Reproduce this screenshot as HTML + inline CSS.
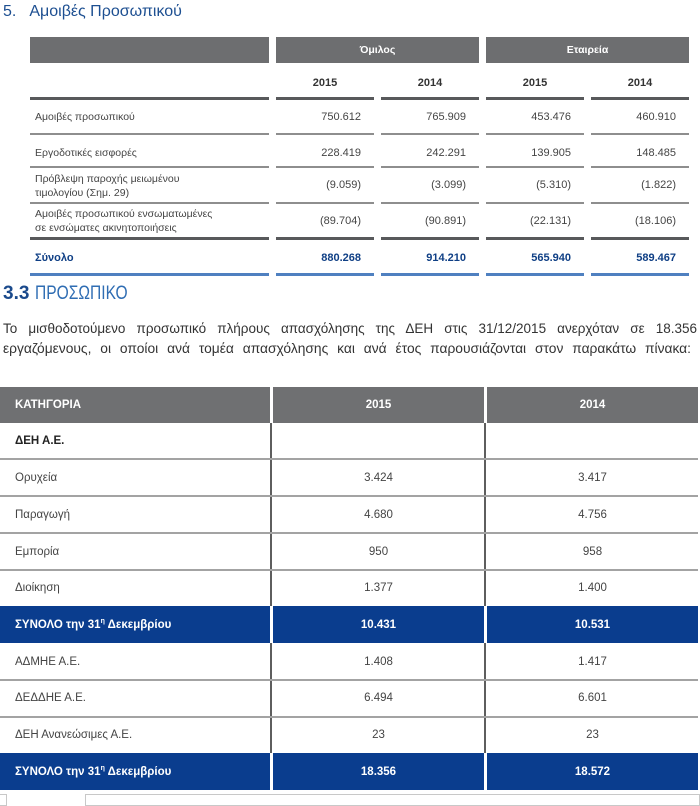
<!DOCTYPE html>
<html>
<head>
<meta charset="utf-8">
<style>
  html,body{margin:0;padding:0;}
  body{width:700px;height:800px;background:#fff;position:relative;overflow:hidden;font-family:"Liberation Sans","DejaVu Sans",sans-serif;color:#3a3a3a;}
  .a{position:absolute;}
  .t{position:absolute;white-space:nowrap;}
  .gbar{position:absolute;background:#6d6e70;}
  .ln{position:absolute;height:2px;background:#8e8e8e;}
  .lnd{position:absolute;height:3px;background:#58595b;}
  .lnb{position:absolute;height:3px;background:#4f80c0;}
  .num{position:absolute;text-align:right;font-size:11px;line-height:14px;color:#444;}
  .yr{position:absolute;text-align:center;font-size:11px;font-weight:bold;line-height:14px;color:#333;}
  .lbl{position:absolute;left:35px;font-size:10.5px;line-height:14px;color:#444;white-space:nowrap;}
  .tot{position:absolute;text-align:right;font-size:11px;font-weight:bold;line-height:14px;color:#0f3f85;}
  .blue{position:absolute;background:#0a3d8e;}
  .hg{position:absolute;background:#6f7072;}
  .hl{position:absolute;left:0;width:698px;height:2px;background:#a3a3a3;}
  .vl{position:absolute;width:2px;background:#5e5e5e;}
  .cl{position:absolute;left:15px;font-size:11.5px;line-height:16px;color:#444;white-space:nowrap;}
  .cn{position:absolute;text-align:center;font-size:11.5px;line-height:16px;color:#444;}
  .wb{color:#fff;font-weight:bold;}
  .sp{font-size:7px;line-height:0;position:relative;top:-5px;}
</style>
</head>
<body>

<!-- Title -->
<div class="t" style="left:3px;top:3px;font-size:16px;line-height:18px;color:#1d4f91;">5.<span style="display:inline-block;width:13px;"></span>Αμοιβές Προσωπικού</div>

<!-- Top table header bars -->
<div class="gbar" style="left:30px;top:37px;width:239px;height:26px;"></div>
<div class="gbar" style="left:276px;top:37px;width:203px;height:26px;"></div>
<div class="gbar" style="left:486px;top:37px;width:203px;height:26px;"></div>
<div class="t" style="left:276px;width:203px;top:43px;text-align:center;font-size:10.5px;line-height:14px;font-weight:bold;color:#fff;">Όμιλος</div>
<div class="t" style="left:486px;width:203px;top:43px;text-align:center;font-size:10.5px;line-height:14px;font-weight:bold;color:#fff;">Εταιρεία</div>

<!-- Years -->
<div class="yr" style="left:276px;width:98px;top:76px;">2015</div>
<div class="yr" style="left:381px;width:98px;top:76px;">2014</div>
<div class="yr" style="left:486px;width:98px;top:76px;">2015</div>
<div class="yr" style="left:591px;width:98px;top:76px;">2014</div>

<div class="lnd" style="left:30px;width:239px;top:97px;"></div>
<div class="lnd" style="left:276px;width:98px;top:97px;"></div>
<div class="lnd" style="left:381px;width:98px;top:97px;"></div>
<div class="lnd" style="left:486px;width:98px;top:97px;"></div>
<div class="lnd" style="left:591px;width:98px;top:97px;"></div>

<!-- Row 1 -->
<div class="lbl" style="top:110px;">Αμοιβές προσωπικού</div>
<div class="num" style="left:276px;width:85px;top:110px;">750.612</div>
<div class="num" style="left:381px;width:85px;top:110px;">765.909</div>
<div class="num" style="left:486px;width:85px;top:110px;">453.476</div>
<div class="num" style="left:591px;width:85px;top:110px;">460.910</div>

<div class="ln" style="left:30px;width:239px;top:133px;"></div>
<div class="ln" style="left:276px;width:98px;top:133px;"></div>
<div class="ln" style="left:381px;width:98px;top:133px;"></div>
<div class="ln" style="left:486px;width:98px;top:133px;"></div>
<div class="ln" style="left:591px;width:98px;top:133px;"></div>

<!-- Row 2 -->
<div class="lbl" style="top:146px;">Εργοδοτικές εισφορές</div>
<div class="num" style="left:276px;width:85px;top:146px;">228.419</div>
<div class="num" style="left:381px;width:85px;top:146px;">242.291</div>
<div class="num" style="left:486px;width:85px;top:146px;">139.905</div>
<div class="num" style="left:591px;width:85px;top:146px;">148.485</div>

<div class="ln" style="left:30px;width:239px;top:166px;"></div>
<div class="ln" style="left:276px;width:98px;top:166px;"></div>
<div class="ln" style="left:381px;width:98px;top:166px;"></div>
<div class="ln" style="left:486px;width:98px;top:166px;"></div>
<div class="ln" style="left:591px;width:98px;top:166px;"></div>

<!-- Row 3 -->
<div class="lbl" style="top:172px;">Πρόβλεψη παροχής μειωμένου</div>
<div class="lbl" style="top:186px;">τιμολογίου (Σημ. 29)</div>
<div class="num" style="left:276px;width:85px;top:178px;">(9.059)</div>
<div class="num" style="left:381px;width:85px;top:178px;">(3.099)</div>
<div class="num" style="left:486px;width:85px;top:178px;">(5.310)</div>
<div class="num" style="left:591px;width:85px;top:178px;">(1.822)</div>

<div class="ln" style="left:30px;width:239px;top:202px;"></div>
<div class="ln" style="left:276px;width:98px;top:202px;"></div>
<div class="ln" style="left:381px;width:98px;top:202px;"></div>
<div class="ln" style="left:486px;width:98px;top:202px;"></div>
<div class="ln" style="left:591px;width:98px;top:202px;"></div>

<!-- Row 4 -->
<div class="lbl" style="top:207px;">Αμοιβές προσωπικού ενσωματωμένες</div>
<div class="lbl" style="top:221px;">σε ενσώματες ακινητοποιήσεις</div>
<div class="num" style="left:276px;width:85px;top:214px;">(89.704)</div>
<div class="num" style="left:381px;width:85px;top:214px;">(90.891)</div>
<div class="num" style="left:486px;width:85px;top:214px;">(22.131)</div>
<div class="num" style="left:591px;width:85px;top:214px;">(18.106)</div>

<div class="lnd" style="left:30px;width:239px;top:237px;"></div>
<div class="lnd" style="left:276px;width:98px;top:237px;"></div>
<div class="lnd" style="left:381px;width:98px;top:237px;"></div>
<div class="lnd" style="left:486px;width:98px;top:237px;"></div>
<div class="lnd" style="left:591px;width:98px;top:237px;"></div>

<!-- Total -->
<div class="lbl" style="top:251px;font-weight:bold;color:#0f3f85;font-size:11px;">Σύνολο</div>
<div class="tot" style="left:276px;width:85px;top:251px;">880.268</div>
<div class="tot" style="left:381px;width:85px;top:251px;">914.210</div>
<div class="tot" style="left:486px;width:85px;top:251px;">565.940</div>
<div class="tot" style="left:591px;width:85px;top:251px;">589.467</div>

<div class="lnb" style="left:30px;width:239px;top:273px;"></div>
<div class="lnb" style="left:276px;width:98px;top:273px;"></div>
<div class="lnb" style="left:381px;width:98px;top:273px;"></div>
<div class="lnb" style="left:486px;width:98px;top:273px;"></div>
<div class="lnb" style="left:591px;width:98px;top:273px;"></div>

<!-- Section 3.3 heading -->
<div class="t" style="left:3px;top:284px;font-size:19px;line-height:20px;"><span style="font-weight:bold;color:#1b4a8c;">3.3</span> <span style="display:inline-block;transform:scaleX(0.82);transform-origin:left center;color:#2f6db3;">ΠΡΟΣΩΠΙΚΟ</span></div>

<!-- Paragraph -->
<div class="a" style="left:3px;top:319px;width:694px;font-size:13.5px;line-height:20px;color:#333;text-align:justify;text-align-last:justify;white-space:nowrap;">Το μισθοδοτούμενο προσωπικό πλήρους απασχόλησης της ΔΕΗ στις 31/12/2015 ανερχόταν σε 18.356</div>
<div class="a" style="left:3px;top:339px;width:688px;font-size:13.8px;line-height:20px;color:#333;text-align:justify;text-align-last:justify;white-space:nowrap;">εργαζόμενους, οι οποίοι ανά τομέα απασχόλησης και ανά έτος παρουσιάζονται στον παρακάτω πίνακα:</div>

<!-- Lower table header -->
<div class="hg" style="left:0;top:387px;width:270px;height:36px;"></div>
<div class="hg" style="left:273px;top:387px;width:211px;height:36px;"></div>
<div class="hg" style="left:487px;top:387px;width:211px;height:36px;"></div>
<div class="cl wb" style="top:397px;font-size:11.5px;">ΚΑΤΗΓΟΡΙΑ</div>
<div class="cn wb" style="left:273px;width:211px;top:397px;">2015</div>
<div class="cn wb" style="left:487px;width:211px;top:397px;">2014</div>

<!-- vertical dividers -->
<div class="vl" style="left:270px;top:423px;height:183px;"></div>
<div class="vl" style="left:484px;top:423px;height:183px;"></div>
<div class="vl" style="left:270px;top:643px;height:110px;"></div>
<div class="vl" style="left:484px;top:643px;height:110px;"></div>

<!-- horizontal lines -->
<div class="hl" style="top:458px;"></div>
<div class="hl" style="top:495px;"></div>
<div class="hl" style="top:532px;"></div>
<div class="hl" style="top:569px;"></div>
<div class="hl" style="top:679px;"></div>
<div class="hl" style="top:716px;"></div>

<!-- Rows -->
<div class="cl" style="top:433px;font-weight:bold;color:#222;">ΔΕΗ Α.Ε.</div>

<div class="cl" style="top:470px;">Ορυχεία</div>
<div class="cn" style="left:273px;width:211px;top:470px;">3.424</div>
<div class="cn" style="left:487px;width:211px;top:470px;">3.417</div>

<div class="cl" style="top:507px;">Παραγωγή</div>
<div class="cn" style="left:273px;width:211px;top:507px;">4.680</div>
<div class="cn" style="left:487px;width:211px;top:507px;">4.756</div>

<div class="cl" style="top:544px;">Εμπορία</div>
<div class="cn" style="left:273px;width:211px;top:544px;">950</div>
<div class="cn" style="left:487px;width:211px;top:544px;">958</div>

<div class="cl" style="top:580px;">Διοίκηση</div>
<div class="cn" style="left:273px;width:211px;top:580px;">1.377</div>
<div class="cn" style="left:487px;width:211px;top:580px;">1.400</div>

<!-- Blue total 1 -->
<div class="blue" style="left:0;top:606px;width:270px;height:37px;"></div>
<div class="blue" style="left:273px;top:606px;width:211px;height:37px;"></div>
<div class="blue" style="left:487px;top:606px;width:211px;height:37px;"></div>
<div class="cl wb" style="top:617px;">ΣΥΝΟΛΟ την 31<span class="sp">η</span> Δεκεμβρίου</div>
<div class="cn wb" style="left:273px;width:211px;top:617px;">10.431</div>
<div class="cn wb" style="left:487px;width:211px;top:617px;">10.531</div>

<div class="cl" style="top:654px;">ΑΔΜΗΕ Α.Ε.</div>
<div class="cn" style="left:273px;width:211px;top:654px;">1.408</div>
<div class="cn" style="left:487px;width:211px;top:654px;">1.417</div>

<div class="cl" style="top:690px;">ΔΕΔΔΗΕ Α.Ε.</div>
<div class="cn" style="left:273px;width:211px;top:690px;">6.494</div>
<div class="cn" style="left:487px;width:211px;top:690px;">6.601</div>

<div class="cl" style="top:727px;">ΔΕΗ Ανανεώσιμες Α.Ε.</div>
<div class="cn" style="left:273px;width:211px;top:727px;">23</div>
<div class="cn" style="left:487px;width:211px;top:727px;">23</div>

<!-- Blue total 2 -->
<div class="blue" style="left:0;top:753px;width:270px;height:37px;"></div>
<div class="blue" style="left:273px;top:753px;width:211px;height:37px;"></div>
<div class="blue" style="left:487px;top:753px;width:211px;height:37px;"></div>
<div class="cl wb" style="top:764px;">ΣΥΝΟΛΟ την 31<span class="sp">η</span> Δεκεμβρίου</div>
<div class="cn wb" style="left:273px;width:211px;top:764px;">18.356</div>
<div class="cn wb" style="left:487px;width:211px;top:764px;">18.572</div>

<!-- faint bottom boxes -->
<div class="a" style="left:0;top:794px;width:6px;height:10px;border:1px solid #c8c8c8;border-left:none;"></div>
<div class="a" style="left:85px;top:794px;width:613px;height:10px;border:1px solid #c8c8c8;"></div>

</body>
</html>
